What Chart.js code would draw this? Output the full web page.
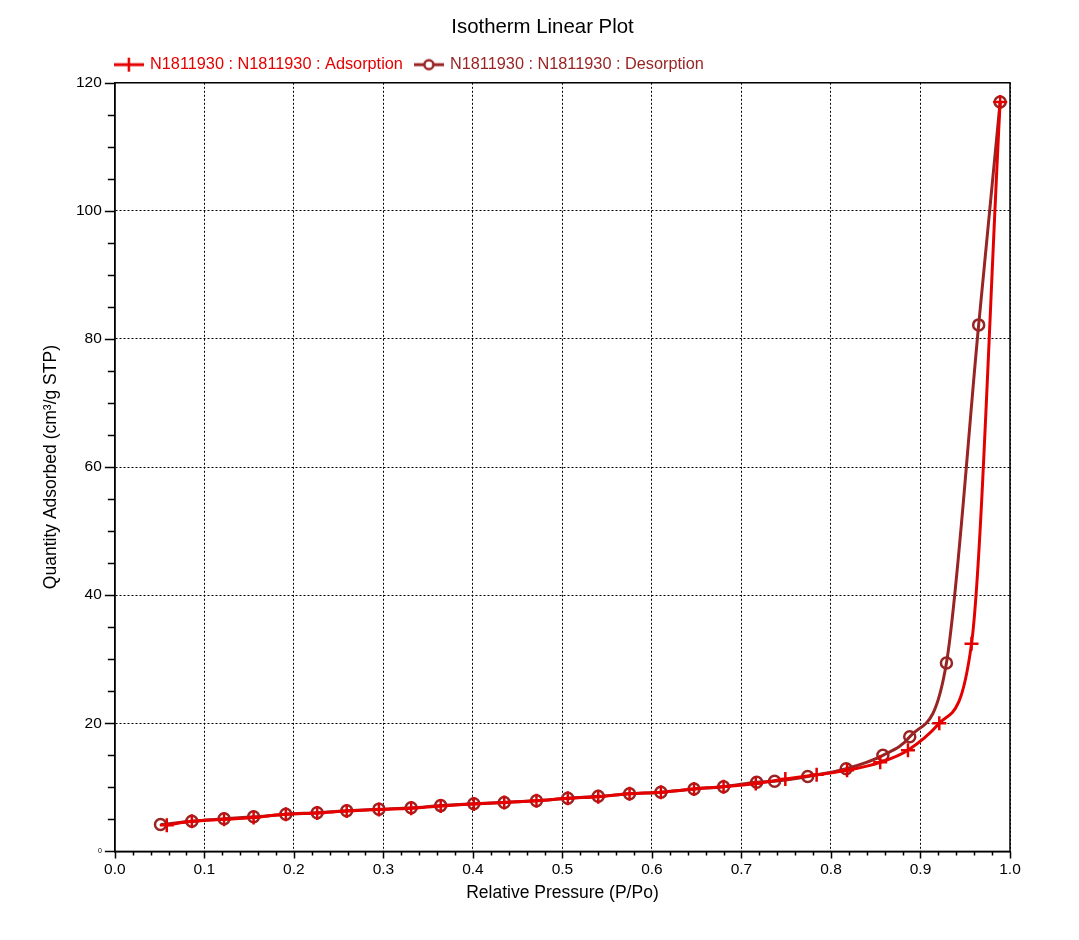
<!DOCTYPE html>
<html>
<head>
<meta charset="utf-8">
<script src="https://cdn.jsdelivr.net/npm/chart.js@4/dist/chart.umd.min.js"></script>
<style>
  body { margin: 0; background: #fff; }
  #wrap { width: 1079px; height: 940px; }
</style>
</head>
<body>
<div id="wrap"><canvas id="isochart"></canvas></div>
<script>
// adsorption branch (relative pressure, quantity adsorbed)
const adsPressure = [0.058, 0.086, 0.122, 0.155, 0.191, 0.226, 0.259, 0.295, 0.331, 0.364, 0.401, 0.435, 0.471, 0.506, 0.540, 0.575, 0.610, 0.647, 0.680, 0.716, 0.749, 0.784, 0.818, 0.855, 0.886, 0.921, 0.957, 0.989];
const adsQuantity = [4.1, 4.7, 5.0, 5.3, 5.8, 6.0, 6.3, 6.55, 6.75, 7.1, 7.4, 7.65, 7.9, 8.3, 8.55, 9.0, 9.25, 9.75, 10.1, 10.6, 11.3, 11.95, 12.65, 13.9, 15.8, 20.0, 32.4, 117.0];

// desorption branch, from high pressure down
const desPressure = [0.989, 0.965, 0.929, 0.888, 0.858, 0.817, 0.774, 0.737, 0.717, 0.680, 0.647, 0.610, 0.575, 0.540, 0.506, 0.471, 0.435, 0.401, 0.364, 0.331, 0.295, 0.259, 0.226, 0.191, 0.155, 0.122, 0.086, 0.051];
const desQuantity = [117.0, 82.2, 29.4, 17.9, 15.0, 12.9, 11.7, 10.95, 10.8, 10.1, 9.75, 9.25, 9.0, 8.6, 8.3, 7.9, 7.65, 7.45, 7.15, 6.8, 6.6, 6.35, 6.05, 5.8, 5.4, 5.1, 4.7, 4.2];

const xTicks = [0.0, 0.1, 0.2, 0.3, 0.4, 0.5, 0.6, 0.7, 0.8, 0.9, 1.0];
const yTicks = [0, 20, 40, 60, 80, 100, 120];

const seriesNames = ["N1811930 : N1811930 : Adsorption", "N1811930 : N1811930 : Desorption"];
const adsColor = "#e50000";
const desColor = "#992424";

const toPoints = (xs, ys) => xs.map((x, i) => ({ x: x, y: ys[i] }));
const isMajor = (v, list) => list.some(t => Math.abs(t - v) < 1e-6);

// small canvas icons for the legend: line + marker
function legendIcon(color, kind) {
    const c = document.createElement("canvas");
    c.width = 30; c.height = 16;
    const g = c.getContext("2d");
    g.strokeStyle = color;
    g.lineWidth = 3;
    g.beginPath(); g.moveTo(0, 8); g.lineTo(30, 8); g.stroke();
    g.lineWidth = 2.5;
    if (kind === "cross") {
        g.beginPath(); g.moveTo(15, 1); g.lineTo(15, 15); g.stroke();
    } else {
        g.fillStyle = "#fff";
        g.beginPath(); g.arc(15, 8, 4.5, 0, Math.PI * 2); g.fill(); g.stroke();
    }
    return c;
}

// line the legend up with the plot's left edge, nudge the title
const nudgeBlocks = {
    id: "nudgeBlocks",
    afterLayout(chart) {
        const lg = chart.legend;
        const shift = chart.chartArea.left + 1 - 13 - lg.left;
        lg.left += shift; lg.right += shift;
        if (chart.titleBlock) { chart.titleBlock.left += 17; chart.titleBlock.right += 17; }
    }
};

// minor/major tick marks and the closing box round the plot area
const frameTicks = {
    id: "frameTicks",
    afterDraw(chart) {
        const ctx = chart.ctx;
        const a = chart.chartArea;
        const xs = chart.scales.x, ys = chart.scales.y;
        ctx.save();
        ctx.strokeStyle = "#000";
        ctx.lineWidth = 1.5;
        ctx.strokeRect(a.left, a.top, a.right - a.left, a.bottom - a.top);
        ctx.beginPath();
        xs.ticks.forEach(t => {
            const px = Math.round(xs.getPixelForValue(t.value)) + 0.5;
            const len = isMajor(t.value, xTicks) ? 7 : 4;
            ctx.moveTo(px, a.bottom); ctx.lineTo(px, a.bottom + len);
        });
        ys.ticks.forEach(t => {
            const py = Math.round(ys.getPixelForValue(t.value)) + 0.5;
            const len = isMajor(t.value, yTicks) ? 10 : 7;
            ctx.moveTo(a.left, py); ctx.lineTo(a.left - len, py);
        });
        ctx.stroke();
        ctx.restore();
    }
};

const config = {
    type: "line",
    data: {
        datasets: [{
            label: seriesNames[0],
            data: toPoints(adsPressure, adsQuantity),
            borderColor: adsColor,
            backgroundColor: adsColor,
            borderWidth: 3,
            cubicInterpolationMode: "monotone",
            pointStyle: "cross",
            pointRadius: 7,
            pointBorderWidth: 2.5,
            pointBorderColor: adsColor,
            fill: false
        }, {
            label: seriesNames[1],
            data: toPoints(desPressure, desQuantity),
            borderColor: desColor,
            backgroundColor: "rgba(0,0,0,0)",
            borderWidth: 3,
            cubicInterpolationMode: "monotone",
            pointStyle: "circle",
            pointRadius: 5.5,
            pointBorderWidth: 2.5,
            pointBorderColor: desColor,
            fill: false
        }]
    },
    options: {
        responsive: false,
        animation: false,
        layout: { padding: { left: 41, right: 69, top: 15, bottom: 36 } },
        plugins: {
            title: {
                display: true,
                text: "Isotherm Linear Plot",
                color: "#000",
                font: { family: "Liberation Sans", size: 20.4, weight: "normal" },
                padding: { top: 0, bottom: 4 }
            },
            legend: {
                display: true,
                fullSize: false,
                align: "start",
                labels: {
                    usePointStyle: true,
                    pointStyleWidth: 26,
                    boxHeight: 14,
                    padding: 13,
                    font: { family: "Liberation Sans", size: 16.3 },
                    generateLabels: (chart) => [
                        { text: seriesNames[0], fontColor: adsColor, pointStyle: legendIcon(adsColor, "cross"), datasetIndex: 0, lineWidth: 0, hidden: false },
                        { text: seriesNames[1], fontColor: desColor, pointStyle: legendIcon(desColor, "circle"), datasetIndex: 1, lineWidth: 0, hidden: false }
                    ]
                }
            },
            tooltip: { enabled: false }
        },
        scales: {
            x: {
                type: "linear",
                min: 0,
                max: 1,
                ticks: {
                    stepSize: 0.02,
                    autoSkip: false,
                    maxRotation: 0,
                    color: "#000",
                    padding: 2,
                    font: { family: "Liberation Sans", size: 15.5 },
                    callback: (v) => isMajor(v, xTicks) ? v.toFixed(1) : ""
                },
                grid: {
                    color: (c) => c.tick && isMajor(c.tick.value, xTicks) ? "#000" : "rgba(0,0,0,0)",
                    lineWidth: 1,
                    tickColor: "rgba(0,0,0,0)",
                    tickLength: 7
                },
                border: { display: true, color: "#000", width: 1.5, dash: [2, 2] },
                title: {
                    display: true,
                    text: "Relative Pressure (P/Po)",
                    color: "#000",
                    font: { family: "Liberation Sans", size: 17.5 },
                    padding: { top: 2, bottom: 0 }
                }
            },
            y: {
                type: "linear",
                min: 0,
                max: 120,
                ticks: {
                    stepSize: 5,
                    autoSkip: false,
                    color: "#000",
                    padding: 3,
                    font: (c) => ({ family: "Liberation Sans", size: c.tick && c.tick.value === 0 ? 7 : 15.5 }),
                    callback: (v) => isMajor(v, yTicks) ? String(v) : ""
                },
                grid: {
                    color: (c) => c.tick && isMajor(c.tick.value, yTicks) ? "#000" : "rgba(0,0,0,0)",
                    lineWidth: 1,
                    tickColor: "rgba(0,0,0,0)",
                    tickLength: 10
                },
                border: { display: true, color: "#000", width: 1.5, dash: [2, 2] },
                title: {
                    display: true,
                    text: "Quantity Adsorbed (cm³/g STP)",
                    color: "#000",
                    font: { family: "Liberation Sans", size: 17.5 },
                    padding: { top: 0, bottom: 11 }
                }
            }
        }
    },
    plugins: [nudgeBlocks, frameTicks]
};

const canvas = document.getElementById("isochart");
canvas.width = 1079;
canvas.height = 940;
new Chart(canvas, config);
</script>
</body>
</html>
